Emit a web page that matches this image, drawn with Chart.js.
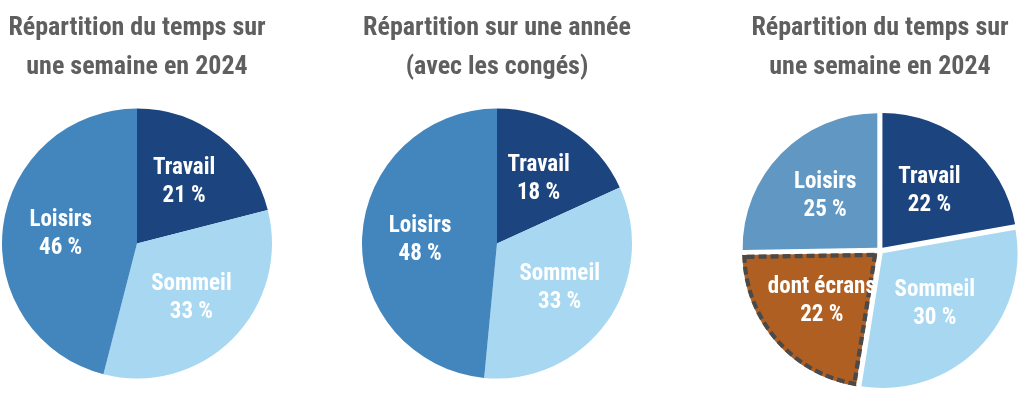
<!DOCTYPE html>
<html>
<head>
<meta charset="utf-8">
<script src="https://cdn.jsdelivr.net/npm/chart.js@4/dist/chart.umd.min.js"></script>
<style>
  html, body { margin: 0; padding: 0; background: #fff; }
  body { width: 1024px; height: 395px; position: relative; overflow: hidden; }
  .box { position: absolute; top: 0; height: 395px; }
  #b1 { left: 0; width: 274px; }
  #b2 { left: 360px; width: 274px; }
  #b3 { left: 733px; width: 294px; }
</style>
</head>
<body>
<div class="box" id="b1"><canvas id="c1"></canvas></div>
<div class="box" id="b2"><canvas id="c2"></canvas></div>
<div class="box" id="b3"><canvas id="c3"></canvas></div>
<script>
const FONT = '"Liberation Sans Narrow", "Roboto Condensed", "DejaVu Sans Condensed", sans-serif'

// semaine 2024
const labelsWeek = [ 'Travail', 'Sommeil', 'Loisirs' ]
const valuesWeek = [ 21, 33, 46 ]
// année avec congés
const labelsYear = [ 'Travail', 'Sommeil', 'Loisirs' ]
const valuesYear = [ 18, 33, 48 ]
// semaine 2024, détail écrans
const labelsScreens = [ 'Travail', 'Sommeil', 'dont écrans', 'Loisirs' ]
const valuesScreens = [ 22, 30, 22, 25 ]

const titleWeek = [ 'Répartition du temps sur', 'une semaine en 2024' ]
const titleYear = [ 'Répartition sur une année', '(avec les congés)' ]

const NAVY = '#1c4580'
const SKY = '#a7d7f1'
const MID = '#4386bd'
const MID2 = '#6097c3'
const BROWN = '#b05f22'

// white labels inside slices: name on one line, value on the next
const sliceLabels = {
    id: 'sliceLabels',
    afterDatasetsDraw ( chart ) {
        const ctx = chart.ctx
        const meta = chart.getDatasetMeta( 0 )
        const ds = chart.data.datasets[ 0 ]
        ctx.save()
        ctx.fillStyle = '#fff'
        ctx.textAlign = 'center'
        ctx.textBaseline = 'middle'
        ctx.font = 'bold 23px ' + FONT
        meta.data.forEach( ( arc, i ) => {
            const p = arc.getProps( [ 'x', 'y', 'startAngle', 'endAngle', 'outerRadius' ], true )
            const mid = ( p.startAngle + p.endAngle ) / 2
            const r = p.outerRadius * 0.57
            const x = p.x + Math.cos( mid ) * r
            const y = p.y + Math.sin( mid ) * r
            ctx.fillText( chart.data.labels[ i ], x, y - 14 )
            ctx.fillText( ds.data[ i ] + ' %', x, y + 14 )
        } )
        ctx.restore()
    }
}

function makePie ( id, labels, values, colors, title, extra, pad ) {
    return new Chart( document.getElementById( id ), {
        type: 'pie',
        data: {
            labels: labels,
            datasets: [ Object.assign( {
                data: values,
                backgroundColor: colors,
                borderWidth: 0
            }, extra || {} ) ]
        },
        options: {
            responsive: true,
            maintainAspectRatio: false,
            animation: false,
            layout: { padding: pad || { top: 0, bottom: 16, left: 2, right: 2 } },
            plugins: {
                legend: { display: false },
                tooltip: { enabled: false },
                title: {
                    display: true,
                    text: title,
                    color: '#5f5f5f',
                    font: { family: FONT, size: 26, weight: 'bold', lineHeight: 1.5 },
                    padding: { top: 9, bottom: 21 }
                }
            }
        },
        plugins: [ sliceLabels ]
    } )
}

makePie( 'c1', labelsWeek, valuesWeek, [ NAVY, SKY, MID ], titleWeek )
makePie( 'c2', labelsYear, valuesYear, [ NAVY, SKY, MID ], titleYear )
makePie( 'c3', labelsScreens, valuesScreens, [ NAVY, SKY, BROWN, MID2 ], titleWeek, {
    offset: 15,
    borderWidth: [ 0, 0, 4, 0 ],
    borderColor: [ '#fff', '#fff', '#4a4a4a', '#fff' ],
    borderAlign: 'inner',
    borderDash: c => c.dataIndex === 2 ? [ 8, 4 ] : []
}, { top: 0, bottom: 2, left: 2, right: 2 } )
</script>
</body>
</html>
